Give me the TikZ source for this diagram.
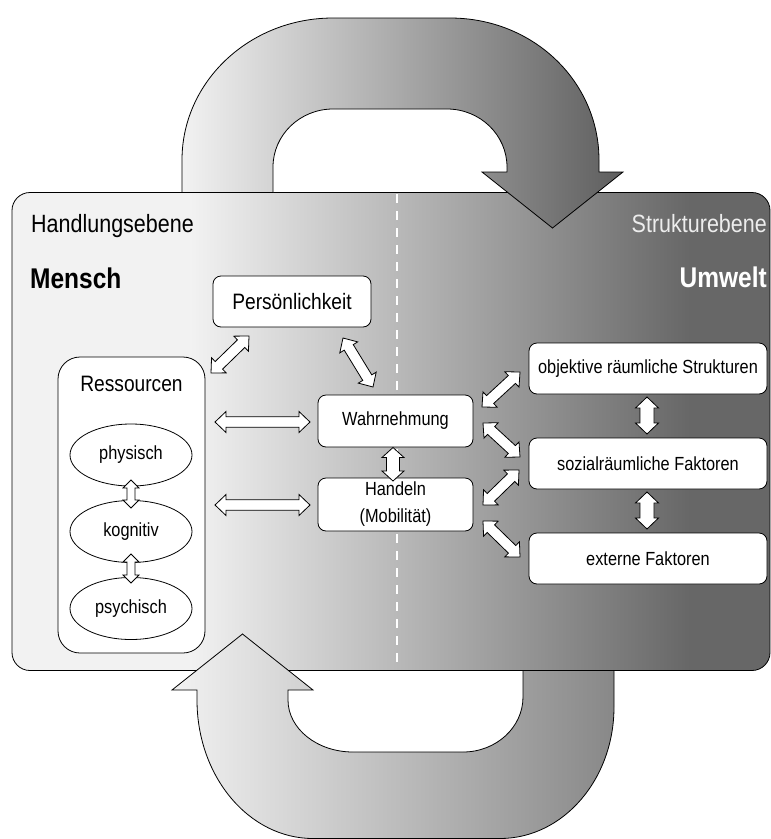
\documentclass[tikz,border=0pt]{standalone}
\usepackage{fontspec}
\setmainfont{Liberation Sans}[FakeStretch=0.86]
\usetikzlibrary{calc,shapes.geometric}
\definecolor{lightg}{HTML}{F2F2F2}
\definecolor{darkg}{HTML}{676767}
\definecolor{topdark}{HTML}{5E5E5E}
\definecolor{botdark}{HTML}{888888}
\newcommand\myfA{\fontsize{25}{28}\selectfont}
\newcommand\myfB{\fontsize{28.5}{31}\selectfont\bfseries}
\newcommand\myfC{\fontsize{22.3}{25}\selectfont}
\newcommand\myfD{\fontsize{19}{27}\selectfont}
\newcommand\blockarr[5]{%
 \draw[barrow] (#1)
 -- ($($(#1)!#5!(#2)$)!#4!90:(#2)$)
 -- ($($(#1)!#5!(#2)$)!#3!90:(#2)$)
 -- ($($(#2)!#5!(#1)$)!#3!-90:(#1)$)
 -- ($($(#2)!#5!(#1)$)!#4!-90:(#1)$)
 -- (#2)
 -- ($($(#2)!#5!(#1)$)!#4!90:(#1)$)
 -- ($($(#2)!#5!(#1)$)!#3!90:(#1)$)
 -- ($($(#1)!#5!(#2)$)!#3!-90:(#2)$)
 -- ($($(#1)!#5!(#2)$)!#4!-90:(#2)$)
 -- cycle;}
\begin{document}
\begin{tikzpicture}[x=1pt,y=-1pt,
  box/.style={draw=black,fill=white,line width=0.8pt,rounded corners=8pt,inner sep=0pt,align=center},
  ell/.style={draw=black,fill=white,line width=0.8pt,ellipse,inner sep=0pt,minimum width=122pt,minimum height=62pt,font=\myfD},
  barrow/.style={draw=black,fill=white,line width=0.8pt,line join=miter},
  outl/.style={draw=black,line width=0.8pt}]
\useasboundingbox (0,0) rectangle (771,839);
% panel background
\begin{scope}
\clip[rounded corners=18pt] (12,192.5) rectangle (770,670.5);
\fill[lightg] (0,180) rectangle (191,680);
\shade[left color=lightg,right color=darkg] (190,180) rectangle (690,680);
\fill[darkg] (689,180) rectangle (780,680);
\end{scope}
\draw[white,line width=1.6pt,dash pattern=on 9pt off 8pt] (397,194) -- (397,670);
\draw[outl,rounded corners=18pt] (12,192.5) rectangle (770,670.5);
% top arrow
\shadedraw[outl,left color=lightg,right color=topdark]
 (182,192.5) -- (182,160) .. controls (182,81.6) and (249.6,18) .. (333,18)
 -- (450,18) .. controls (533.4,18) and (599,81.6) .. (599,160)
 -- (599,172) -- (623,172) -- (552.5,228) -- (482,172) -- (507,172) -- (507,167)
 .. controls (507,135) and (480.1,109) .. (447,109)
 -- (333,109) .. controls (299.9,109) and (273,135) .. (273,167)
 -- (273,192.5) -- cycle;
% bottom arrow
\shadedraw[outl,left color=lightg,right color=botdark]
 (614,670.5) -- (614,707) .. controls (614,779.6) and (563,838.5) .. (500,838.5)
 -- (313,838.5) .. controls (248.9,838.5) and (197,776.5) .. (197,700)
 -- (197,690) -- (172,690) -- (242.5,634) -- (313,690) -- (288,690) -- (288,700)
 .. controls (288,728.7) and (317.1,752) .. (353,752)
 -- (463,752) .. controls (496.1,752) and (523,727.4) .. (523,697)
 -- (523,670.5) -- cycle;
% titles
\node[font=\myfA,anchor=base west,inner sep=0pt] (handl) at (31,232) {Handlungsebene};
\node[font=\myfB,anchor=base west,inner sep=0pt] (mensch) at (30,288) {Mensch};
\node[font=\myfA,text=white!93!black,anchor=base east,inner sep=0pt] (struk) at (767,232) {Strukturebene};
\node[font=\myfB,text=white,anchor=base east,inner sep=0pt] (umw) at (767,287) {Umwelt};
% boxes
\node[box,minimum width=158pt,minimum height=51pt,font=\myfC] (pers) at (292,301.5) {Persönlichkeit};
\node[box,rounded corners=22pt,minimum width=147pt,minimum height=296pt] (res) at (131.5,505) {};
\node[font=\myfC,inner sep=0pt] (restxt) at (131.5,384) {Ressourcen};
\node[ell] (phys) at (131,455) {physisch};
\node[ell] (kog) at (131,531.5) {kognitiv};
\node[ell] (psy) at (131,608.5) {psychisch};
\node[box,minimum width=155pt,minimum height=52pt,font=\myfD] (wahr) at (395.5,421) {Wahrnehmung};
\node[box,minimum width=155pt,minimum height=53pt,font=\myfD] (handeln) at (395.5,504.5) {Handeln\\(Mobilität)};
\node[box,minimum width=238pt,minimum height=51pt,font=\myfD] (obj) at (648,368.5) {objektive räumliche Strukturen};
\node[box,minimum width=238pt,minimum height=51pt,font=\myfD] (soz) at (648,463.5) {sozialräumliche Faktoren};
\node[box,minimum width=238pt,minimum height=51pt,font=\myfD] (ext) at (648,558.5) {externe Faktoren};
% arrow end points
\coordinate (rw1a) at (215,422); \coordinate (rw1b) at (310,422);
\coordinate (rw2a) at (215,505); \coordinate (rw2b) at (310,505);
\coordinate (pra) at (211,373); \coordinate (prb) at (249,336);
\coordinate (pwa) at (343,338); \coordinate (pwb) at (373,387);
\coordinate (wha) at (393,447.5); \coordinate (whb) at (393,481);
\coordinate (woa) at (482,407); \coordinate (wob) at (520,372);
\coordinate (wsa) at (483,423); \coordinate (wsb) at (520,457);
\coordinate (hsa) at (483,505); \coordinate (hsb) at (519,470);
\coordinate (hea) at (483,521); \coordinate (heb) at (520,557);
\coordinate (osa) at (647,397); \coordinate (osb) at (647,434);
\coordinate (sea) at (647,492); \coordinate (seb) at (647,529);
\coordinate (pka) at (131,480); \coordinate (pkb) at (131,508);
\coordinate (kpa) at (131,554); \coordinate (kpb) at (131,583);
% arrows
\blockarr{rw1a}{rw1b}{5.3pt}{10.5pt}{11pt}
\blockarr{rw2a}{rw2b}{5.3pt}{10.5pt}{11pt}
\blockarr{pra}{prb}{5.3pt}{10.5pt}{11pt}
\blockarr{pwa}{pwb}{5.3pt}{10.5pt}{11pt}
\blockarr{wha}{whb}{6.5pt}{11pt}{10pt}
\blockarr{woa}{wob}{5.3pt}{10.5pt}{11pt}
\blockarr{wsa}{wsb}{5.3pt}{10.5pt}{11pt}
\blockarr{hsa}{hsb}{5.3pt}{10.5pt}{11pt}
\blockarr{hea}{heb}{5.3pt}{10.5pt}{11pt}
\blockarr{osa}{osb}{7pt}{11.5pt}{11pt}
\blockarr{sea}{seb}{7pt}{11.5pt}{11pt}
\blockarr{pka}{pkb}{4pt}{8pt}{8pt}
\blockarr{kpa}{kpb}{4pt}{8pt}{8pt}
\end{tikzpicture}
\end{document}
